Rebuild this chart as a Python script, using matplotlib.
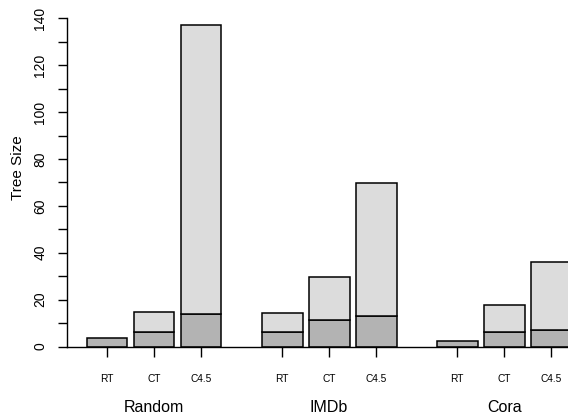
import matplotlib
matplotlib.use("Agg")
import matplotlib.pyplot as plt
import numpy as np

plt.rcParams['font.family'] = ['Liberation Sans', 'DejaVu Sans']

groups = ["Random", "IMDb", "Cora"]
methods = ["RT", "CT", "C4.5"]
# lower (dark) segment and total height for each group x method
lower = {
    "Random": [3.8, 6.1, 13.8],
    "IMDb":   [6.3, 11.4, 13.0],
    "Cora":   [2.3, 6.3, 7.2],
}
total = {
    "Random": [3.8, 14.9, 137.1],
    "IMDb":   [14.4, 29.6, 69.7],
    "Cora":   [2.3, 17.8, 36.1],
}

W, H = 568, 417
fig = plt.figure(figsize=(W / 100, H / 100), dpi=100)
left_px, right_px = 67.3, 568
bot_px, top_px = 346.5, 18.3
ax = fig.add_axes([left_px / W, (H - bot_px) / H,
                   (right_px - left_px) / W, (bot_px - top_px) / H])

unit = 47.0
group_step = 3.725
bar_w = 0.872
ax.set_xlim(-(107 - left_px) / unit, (right_px - 107) / unit)
ax.set_ylim(0, 140)

dark = "#b3b3b3"
light = "#dcdcdc"
xs_all, labels_all = [], []
for g, grp in enumerate(groups):
    xs = g * group_step + np.arange(len(methods))
    lo = np.array(lower[grp])
    tot = np.array(total[grp])
    ax.bar(xs, lo, width=bar_w, color=dark, edgecolor="black", linewidth=1.1, zorder=2)
    up = tot - lo
    mask = up > 0
    ax.bar(xs[mask], up[mask], bottom=lo[mask], width=bar_w, color=light,
           edgecolor="black", linewidth=1.1, zorder=2)
    xs_all.extend(xs)
    labels_all.extend(methods)
    ax.text(xs.mean(), (H - 407) / H, grp, transform=ax.get_xaxis_transform() if False else
            matplotlib.transforms.blended_transform_factory(ax.transData, fig.transFigure),
            ha="center", va="center", fontsize=11.5)

ax.set_xticks(xs_all)
ax.set_xticklabels(labels_all, fontsize=7.3)
ax.tick_params(axis="x", length=7.2, width=1.0, pad=12.5, direction="out")

ax.set_yticks(np.arange(0, 141, 10))
ax.set_yticklabels([str(v) if v % 20 == 0 else "" for v in range(0, 141, 10)],
                   rotation=90, va="center", fontsize=10)
ax.tick_params(axis="y", length=6.5, width=1.0, pad=8.0, direction="out")

for s in ["top", "right"]:
    ax.spines[s].set_visible(False)
ax.spines["left"].set_linewidth(1.0)
ax.spines["bottom"].set_linewidth(1.0)

fig.text(18.3 / W, (H - 168) / H, "Tree Size", rotation=90, ha="center", va="center",
         fontsize=11)

fig.savefig("out.png", dpi=100)
